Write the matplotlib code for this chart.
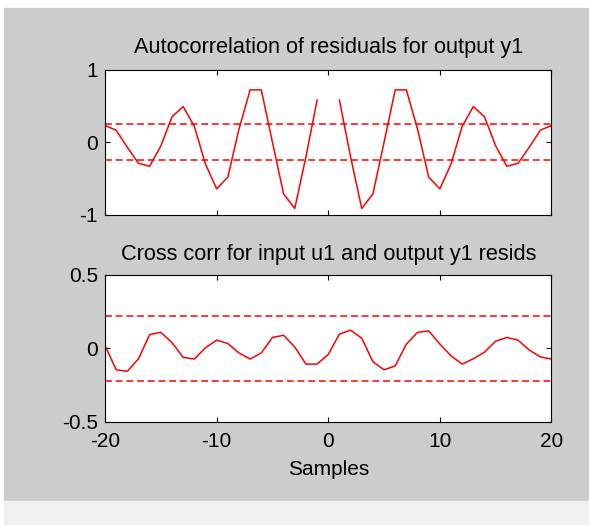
import numpy as np
import matplotlib
matplotlib.use("Agg")
import matplotlib.pyplot as plt
from matplotlib.patches import Rectangle

# lags shown on both panels
lags = np.arange(-20, 21)

# autocorrelation of residuals (lag 0 left out)
acf = [0.23, 0.165, -0.07, -0.29, -0.33, -0.05, 0.35, 0.49, 0.22, -0.30,
       -0.64, -0.48, 0.18, 0.72, 0.72, 0.0, -0.71, -0.91, -0.20, 0.58,
       np.nan,
       0.58, -0.20, -0.91, -0.71, 0.0, 0.72, 0.72, 0.18, -0.48, -0.64,
       -0.30, 0.22, 0.49, 0.35, -0.05, -0.33, -0.29, -0.07, 0.165, 0.23]
acf_conf = 0.245

# cross correlation input u1 / residuals y1
xcorr = [0.02, -0.145, -0.155, -0.07, 0.095, 0.11, 0.04, -0.06, -0.072, 0.005,
         0.057, 0.034, -0.03, -0.072, -0.03, 0.075, 0.09, 0.01, -0.106, -0.106,
         -0.04,
         0.098, 0.125, 0.07, -0.09, -0.145, -0.118, 0.03, 0.11, 0.12, 0.03,
         -0.05, -0.106, -0.07, -0.025, 0.05, 0.075, 0.057, -0.01, -0.057, -0.072]
xcorr_conf = 0.22

xticks = [-20, -10, 0, 10, 20]

plt.rcParams["font.family"] = ["Liberation Sans", "DejaVu Sans"]
plt.rcParams["font.size"] = 15
plt.rcParams["axes.unicode_minus"] = False

fig = plt.figure(figsize=(5.89, 5.25), dpi=100, facecolor="white")
# matlab-ish grey panel and light strip underneath
fig.patches.append(Rectangle((4 / 589, 1 - 501 / 525), 585 / 589, 493 / 525,
                             transform=fig.transFigure, color="#cccccc", zorder=-2))
fig.patches.append(Rectangle((4 / 589, 0), 585 / 589, 24 / 525,
                             transform=fig.transFigure, color="#f0f0f0", zorder=-2))

ax1 = fig.add_axes([0.1783, 0.5905, 0.758, 0.2771])
ax2 = fig.add_axes([0.1783, 0.1962, 0.758, 0.2800])


def style(ax):
    ax.tick_params(direction="in", length=3.5, width=0.8, top=True, right=True,
                   pad=5, colors="black")
    ax.tick_params(axis="x", pad=7)
    for s in ax.spines.values():
        s.set_linewidth(0.8)
    ax.set_xlim(-20, 20)
    ax.set_xticks(xticks)


ax1.plot(lags, acf, color="red", lw=1.1)
ax1.axhline(acf_conf, color="red", lw=1.1, ls=(0, (4.5, 2.5)))
ax1.axhline(-acf_conf, color="red", lw=1.1, ls=(0, (4.5, 2.5)))
style(ax1)
ax1.set_ylim(-1, 1)
ax1.set_yticks([-1, 0, 1])
ax1.set_xticklabels([])
ax1.set_title("Autocorrelation of residuals for output y1", fontsize=15.7, pad=12)

ax2.plot(lags, xcorr, color="red", lw=1.1)
ax2.axhline(xcorr_conf, color="red", lw=1.1, ls=(0, (4.5, 2.5)))
ax2.axhline(-xcorr_conf, color="red", lw=1.1, ls=(0, (4.5, 2.5)))
style(ax2)
ax2.set_ylim(-0.5, 0.5)
ax2.set_yticks([-0.5, 0, 0.5])
ax2.set_yticklabels(["-0.5", "0", "0.5"])
ax2.set_xticklabels([str(t) for t in xticks])
ax2.set_title("Cross corr for input u1 and output y1 resids", fontsize=15.7, pad=11)
ax2.set_xlabel("Samples", labelpad=7)

fig.savefig("out.png", dpi=100)
